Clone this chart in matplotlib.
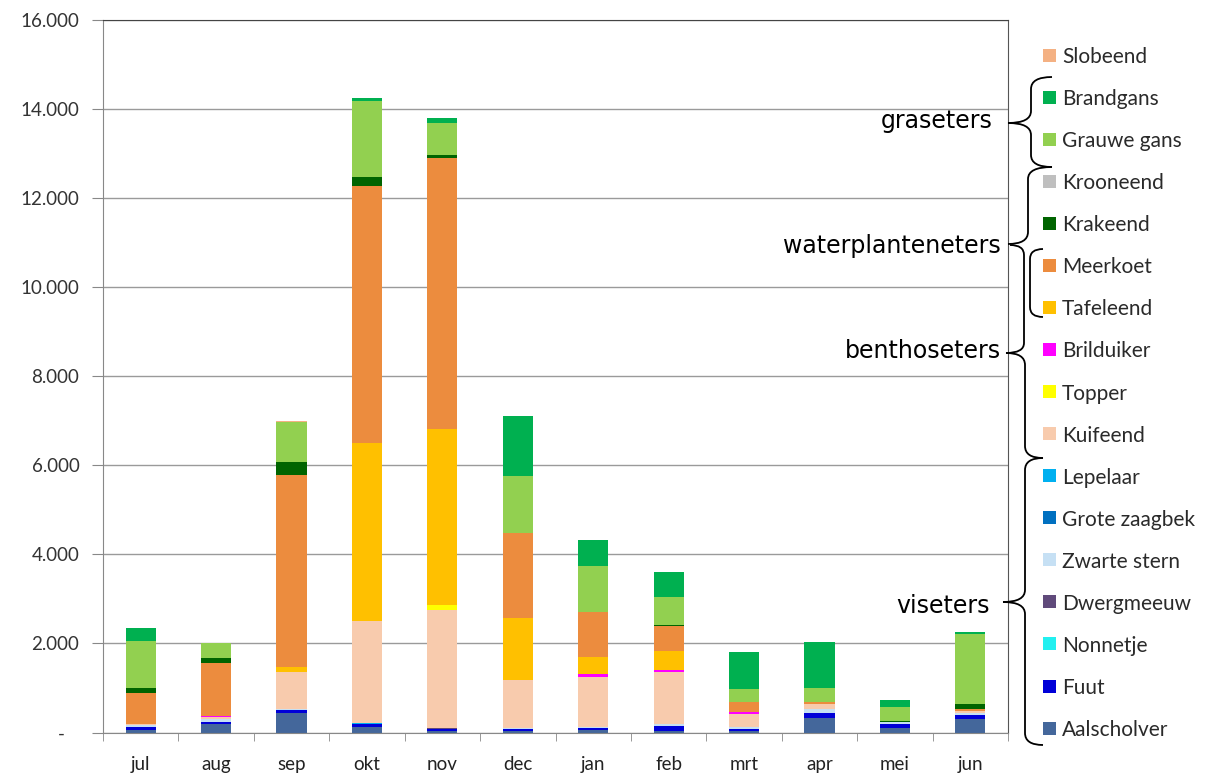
import numpy as np
import matplotlib
matplotlib.use('Agg')
import matplotlib.pyplot as plt
from matplotlib.path import Path
from matplotlib.patches import PathPatch, Rectangle
from matplotlib.ticker import FixedLocator

# months (Dutch)
months = ['jul', 'aug', 'sep', 'okt', 'nov', 'dec', 'jan', 'feb', 'mrt', 'apr', 'mei', 'jun']

# species, bottom of the stack first
species = ['Aalscholver', 'Fuut', 'Nonnetje', 'Dwergmeeuw', 'Zwarte stern', 'Grote zaagbek',
           'Lepelaar', 'Kuifeend', 'Topper', 'Brilduiker', 'Tafeleend', 'Meerkoet',
           'Krakeend', 'Krooneend', 'Grauwe gans', 'Brandgans', 'Slobeend']

colors = ['#44679B', '#0000D8', '#22F0F0', '#604A7B', '#C6E0F4', '#0070C0',
          '#00B0F0', '#F8CBAD', '#FFFF00', '#FF00FF', '#FFC000', '#EC8C3E',
          '#006400', '#BFBFBF', '#92D050', '#00B050', '#F4B183']

# counts per month
aalscholver  = [60, 200, 440, 125, 40, 30, 60, 40, 40, 315, 105, 292]
fuut         = [70, 40, 70, 75, 30, 40, 50, 110, 30, 125, 97, 97]
nonnetje     = [0, 0, 0, 0, 0, 0, 0, 0, 0, 0, 0, 0]
dwergmeeuw   = [0, 0, 0, 0, 25, 0, 0, 0, 0, 0, 0, 0]
zwarte_stern = [30, 55, 20, 0, 0, 30, 20, 40, 60, 80, 30, 52]
grote_zaagbek = [0, 0, 0, 0, 0, 0, 0, 0, 0, 0, 0, 0]
lepelaar     = [0, 0, 0, 20, 0, 0, 0, 0, 0, 0, 0, 0]
kuifeend     = [30, 55, 830, 2280, 2665, 1080, 1108, 1173, 280, 110, 0, 45]
topper       = [0, 0, 0, 0, 100, 0, 0, 0, 0, 0, 0, 0]
brilduiker   = [0, 30, 0, 0, 0, 0, 67, 37, 40, 0, 0, 0]
tafeleend    = [0, 0, 120, 4000, 3950, 1385, 381, 433, 0, 0, 0, 0]
meerkoet     = [700, 1170, 4310, 5780, 6080, 1905, 1010, 555, 230, 55, 0, 52]
krakeend     = [100, 127, 275, 190, 70, 0, 0, 37, 0, 0, 22, 112]
krooneend    = [0, 0, 0, 0, 0, 0, 0, 0, 0, 0, 0, 0]
grauwe_gans  = [1060, 323, 900, 1720, 720, 1300, 1045, 619, 300, 325, 321, 1570]
brandgans    = [300, 0, 0, 50, 120, 1335, 576, 560, 820, 1025, 150, 30]
slobeend     = [0, 0, 30, 0, 0, 0, 0, 0, 0, 0, 0, 0]

series = [aalscholver, fuut, nonnetje, dwergmeeuw, zwarte_stern, grote_zaagbek,
          lepelaar, kuifeend, topper, brilduiker, tafeleend, meerkoet,
          krakeend, krooneend, grauwe_gans, brandgans, slobeend]

yticks = [0, 2000, 4000, 6000, 8000, 10000, 12000, 14000, 16000]
ytick_labels = ['-   ', '2.000', '4.000', '6.000', '8.000', '10.000', '12.000', '14.000', '16.000']

# group labels next to the legend
groups = ['graseters', 'waterplanteneters', 'benthoseters', 'viseters']

W, H = 1207, 777
fig = plt.figure(figsize=(W / 100, H / 100), dpi=100)
ax = fig.add_axes([103 / W, 1 - 732.5 / H, (1008 - 103) / W, (732.5 - 20) / H])

x = np.arange(len(months))
bottom = np.zeros(len(months))
for name, vals, c in zip(species, series, colors):
    ax.bar(x, vals, 0.4, bottom=bottom, color=c, label=name, linewidth=0)
    bottom += np.array(vals)

ax.set_xlim(-0.5, 11.5)
ax.set_ylim(0, 16000)
ax.set_yticks(yticks)
ax.set_yticklabels(ytick_labels, fontfamily='Lato', fontsize=13.5, color='#333333')
ax.set_xticks(x)
ax.set_xticklabels(months, fontfamily='Lato', fontsize=13.5, color='#222222')
ax.tick_params(axis='x', length=0, pad=17)
ax.xaxis.set_minor_locator(FixedLocator(np.arange(-0.5, 12, 1)))
ax.tick_params(axis='x', which='minor', length=6, color='#888888', direction='out')
ax.tick_params(axis='y', length=8, color='#888888', direction='out', pad=9)

ax.yaxis.grid(True, color='#9A9A9A', linewidth=1)
ax.set_axisbelow(True)
ax.spines['left'].set_color('#888888')
ax.spines['bottom'].set_color('#888888')
ax.spines['top'].set_color('#444444')
ax.spines['right'].set_color('#555555')


def fx(px):
    return px / W


def fy(py):
    return 1 - py / H


# legend, top entry = top of the stack
for i, (name, c) in enumerate(zip(species[::-1], colors[::-1])):
    yc = 55 + i * 42.07
    fig.add_artist(Rectangle((fx(1043), fy(yc + 6.5)), 13 / W, 13 / H, color=c,
                             transform=fig.transFigure, lw=0))
    fig.text(fx(1062), fy(yc), name, ha='left', va='center_baseline', fontsize=15,
             fontfamily='Lato', color='#2A2A2A')


def half_brace(xe, ye, xs, xt, yt, r=12):
    # arm end -> spine -> tip
    d = 1 if yt > ye else -1
    verts = [(xe, ye), (xs, ye), (xs, ye + d * r), (xs, yt - d * r), (xs, yt), (xt, yt)]
    codes = [Path.MOVETO, Path.CURVE3, Path.CURVE3, Path.LINETO, Path.CURVE3, Path.CURVE3]
    verts = [(fx(a), fy(b)) for a, b in verts]
    fig.add_artist(PathPatch(Path(verts, codes), fill=False, lw=1.3, ec='black',
                             transform=fig.transFigure))


def brace(xe, ytop, ybot, xs, xt, yt, r=12):
    half_brace(xe, ytop, xs, xt, yt, r)
    half_brace(xe, ybot, xs, xt, yt, r)


# graseters
brace(1052, 77, 167, 1031, 1008, 123)
# waterplanteneters (upper half) and the small bracket for Meerkoet/Tafeleend
half_brace(1052, 167, 1028, 1008, 244)
half_brace(1043, 249, 1030, 1030, 283, r=10)
half_brace(1043, 317, 1030, 1030, 283, r=10)
# benthoseters
half_brace(1010, 245, 1024, 1006, 353, r=10)
half_brace(1043, 458, 1025, 1006, 353)
# viseters
brace(1043, 458, 745, 1025, 1003, 602)

label_pos = [(993, 121), (1001, 246), (1001, 351), (990, 606)]
for g, (px, py) in zip(groups, label_pos):
    fig.text(fx(px), fy(py), g, ha='right', va='center', fontsize=17,
             fontfamily='DejaVu Sans', color='black')

fig.savefig('out.png', dpi=100)
